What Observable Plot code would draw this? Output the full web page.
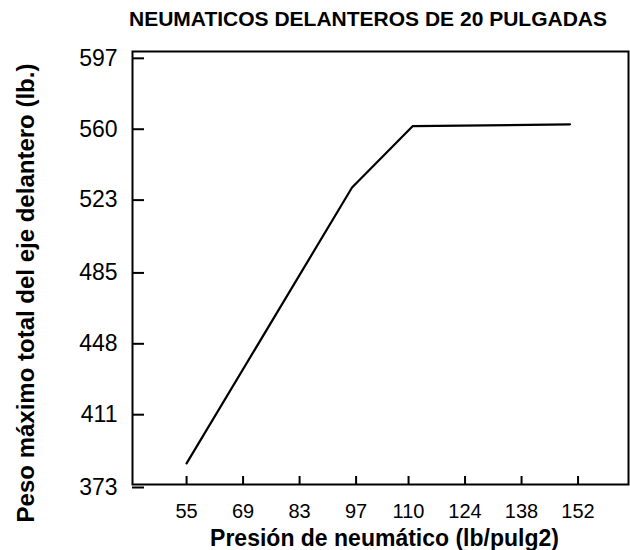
<!DOCTYPE html>
<html>
<head>
<meta charset="utf-8">
<script src="https://cdn.jsdelivr.net/npm/d3@7"></script>
<script src="https://cdn.jsdelivr.net/npm/@observablehq/plot@0.6"></script>
<style>
  body { margin: 0; background: #fff; font-family: "Liberation Sans", Arial, sans-serif; }
  #title { height: 34px; box-sizing: border-box; padding-top: 8px; padding-left: 106px; width: 630px;
           text-align: center; font-weight: bold; font-size: 21px; line-height: 22px; color: #000; white-space: nowrap; }
</style>
</head>
<body>
<div id="title"></div>
<div id="chart"></div>
<script>
const titulo = "NEUMATICOS DELANTEROS DE 20 PULGADAS";
const etiquetaX = "Presión de neumático (lb/pulg2)";
const etiquetaY = "Peso máximo total del eje delantero (lb.)";
const presion = [55, 96, 111, 150];
const peso = [384, 528, 560, 561];
const xTicks = [55, 69, 83, 97, 110, 124, 138, 152];
const yTicks = [373, 411, 448, 485, 523, 560, 597];

document.getElementById("title").textContent = titulo;

const datos = presion.map((p, i) => ({presion: p, peso: peso[i]}));

const chart = Plot.plot({
  width: 630,
  height: 516,
  marginLeft: 132,
  marginRight: 2,
  marginTop: 17,
  marginBottom: 66,
  style: {fontFamily: "Liberation Sans, Arial, sans-serif", color: "#000", background: "#fff"},
  x: {domain: [41.6, 164.5], label: null},
  y: {domain: [373, 599], label: null},
  marks: [
    Plot.frame({stroke: "#000", strokeWidth: 2}),
    Plot.axisX({ticks: xTicks, tickSize: -8, tickPadding: 27, strokeWidth: 2, fontSize: 20, label: null, tickFormat: d => String(d)}),
    Plot.axisY({ticks: yTicks, tickSize: -12, tickPadding: 27, strokeWidth: 2, fontSize: 23, label: null, dy: 3, tickFormat: d => String(d)}),
    Plot.line(datos, {x: "presion", y: "peso", stroke: "#000", strokeWidth: 2.2}),
    Plot.text([etiquetaX], {text: d => d, frameAnchor: "bottom", textAnchor: "middle", lineAnchor: "middle", dx: 4, dy: 54, fontSize: 23, fontWeight: "bold", fill: "#000"}),
    Plot.text([etiquetaY], {text: d => d, frameAnchor: "left", textAnchor: "middle", rotate: -90, lineAnchor: "middle", dx: -106, dy: 25, fontSize: 24, fontWeight: "bold", fill: "#000"})
  ]
});
document.getElementById("chart").appendChild(chart);
</script>
</body>
</html>
